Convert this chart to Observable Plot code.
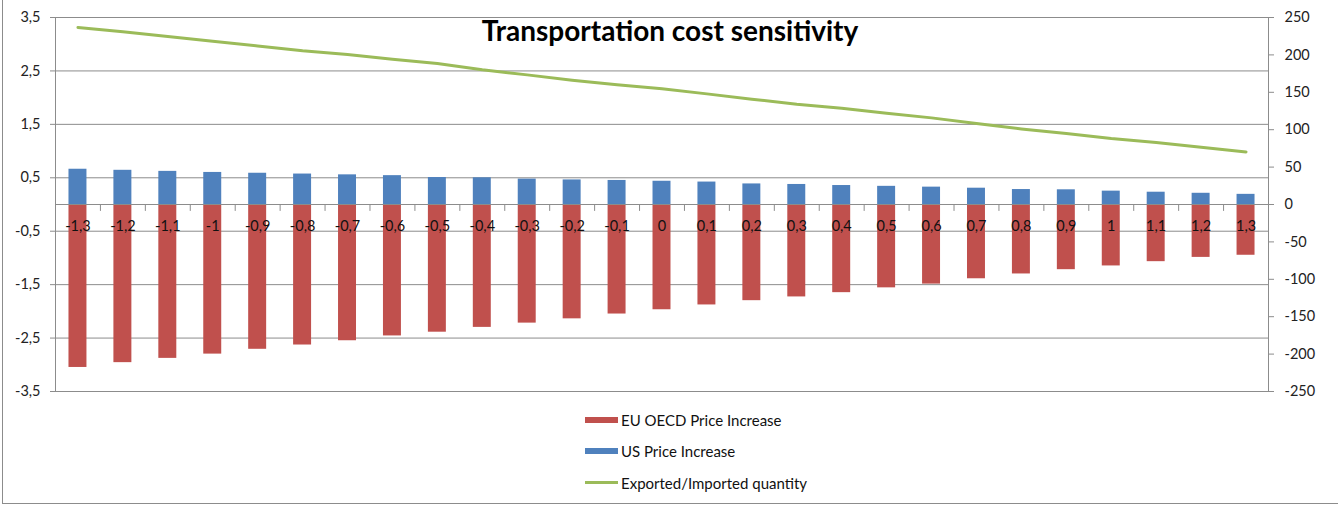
<!DOCTYPE html>
<html>
<head>
<meta charset="utf-8">
<script src="https://cdn.jsdelivr.net/npm/d3@7"></script>
<script src="https://cdn.jsdelivr.net/npm/@observablehq/plot@0.6"></script>
<style>
  html, body { margin: 0; padding: 0; background: #fff; }
  #wrap { position: relative; width: 1338px; height: 506px; overflow: hidden; font-family: Lato, "Open Sans", sans-serif; }
  #border { position: absolute; left: 2px; top: -2px; width: 1340px; height: 506px; border: 1px solid #8c8c8c; box-sizing: border-box; }
  #title { position: absolute; left: 1px; top: 13px; width: 1338px; text-align: center; font-family: Lato, sans-serif; font-weight: bold; font-size: 28px; line-height: 34px; color: #000; }
  #legend { position: absolute; left: 585px; top: 404px; font-size: 15px; color: #111; }
  .row { display: flex; align-items: center; height: 31.5px; }
  .sw { width: 33px; margin-right: 3px; }
</style>
</head>
<body>
<div id="wrap">
  <div id="border"></div>
  <div id="chart"></div>
  <div id="title">Transportation cost sensitivity</div>
  <div id="legend"></div>
</div>
<script>
// ---- data ----
const categories = [-1.3,-1.2,-1.1,-1.0,-0.9,-0.8,-0.7,-0.6,-0.5,-0.4,-0.3,-0.2,-0.1,0,0.1,0.2,0.3,0.4,0.5,0.6,0.7,0.8,0.9,1.0,1.1,1.2,1.3];
const euPriceIncrease = [-3.05,-2.96,-2.88,-2.80,-2.71,-2.63,-2.55,-2.46,-2.39,-2.30,-2.22,-2.14,-2.05,-1.97,-1.88,-1.80,-1.73,-1.65,-1.56,-1.49,-1.39,-1.30,-1.22,-1.15,-1.07,-0.99,-0.95];
const usPriceIncrease = [0.66,0.64,0.62,0.60,0.585,0.57,0.555,0.54,0.505,0.50,0.475,0.46,0.45,0.435,0.42,0.385,0.375,0.355,0.34,0.325,0.305,0.28,0.275,0.25,0.23,0.21,0.19];
const quantity = [236.7,230.8,224.5,218.3,212.0,205.4,200.5,194.3,188.5,180.0,173.3,166.2,160.0,154.6,147.9,140.8,133.9,128.8,121.9,115.8,108.3,101.0,95.0,88.2,82.9,76.6,70.3];
const leftTicks = [3.5,2.5,1.5,0.5,-0.5,-1.5,-2.5,-3.5];
const rightTicks = [250,200,150,100,50,0,-50,-100,-150,-200,-250];
const seriesNames = ["EU OECD Price Increase","US Price Increase","Exported/Imported quantity"];
const colors = ["#C0504D","#4F81BD","#9BBB59"];

// ---- helpers ----
const fmt = v => String(v).replace(".", ",");
const leftMax = 3.5, rightMax = 250;
const toLeft = r => r * leftMax / rightMax;
const labels = categories.map(fmt);
const rows = categories.map((c, i) => ({cat: fmt(c), eu: euPriceIncrease[i], us: usPriceIncrease[i], qty: quantity[i]}));

const W = 1338, mL = 55, mR = 70;
const step = (W - mL - mR) / categories.length;
const gridColor = "#8c8c8c";

const chart = Plot.plot({
  width: W,
  height: 400,
  marginTop: 17,
  marginBottom: 9,
  marginLeft: mL,
  marginRight: mR,
  style: {fontFamily: "Lato, 'Open Sans', sans-serif", fontSize: "14px", color: "#222", background: "transparent"},
  x: {domain: labels, type: "band", paddingInner: 0.6, paddingOuter: 0.3, round: false, axis: null},
  y: {domain: [-leftMax, leftMax], axis: null},
  marks: [
    Plot.ruleY(leftTicks, {stroke: gridColor, strokeWidth: 1}),
    Plot.frame({stroke: gridColor}),
    Plot.axisY({anchor: "left", ticks: leftTicks, tickFormat: fmt, tickSize: 5, tickPadding: 10, stroke: gridColor, fill: "#222", fontSize: 14.5}),
    Plot.axisY({anchor: "right", ticks: rightTicks.map(toLeft), tickFormat: (d, i) => fmt(rightTicks[i]), tickSize: 5, tickPadding: 11, stroke: gridColor, fill: "#222", fontSize: 14.5}),
    Plot.barY(rows, {x: "cat", y: "eu", fill: colors[0]}),
    Plot.barY(rows, {x: "cat", y: "us", fill: colors[1]}),
    Plot.ruleY([0], {stroke: gridColor}),
    Plot.vector(labels, {
      x: d => d, y: 0, length: 6, rotate: 180, anchor: "start", dx: -step / 2,
      stroke: gridColor, strokeWidth: 1,
      shape: {draw(context, l) { context.moveTo(0, 0); context.lineTo(0, -l); }}
    }),
    Plot.text(labels, {x: d => d, y: 0, dy: 22, fill: "#111", fontSize: 14.5}),
    Plot.line(rows, {x: "cat", y: d => toLeft(d.qty), stroke: colors[2], strokeWidth: 3})
  ]
});
document.getElementById("chart").appendChild(chart);

// ---- legend ----
const legend = document.getElementById("legend");
seriesNames.forEach((name, i) => {
  const row = document.createElement("div");
  row.className = "row";
  const sw = document.createElement("div");
  sw.className = "sw";
  sw.style.height = i < 2 ? "6px" : "3px";
  sw.style.background = colors[i];
  const t = document.createElement("span");
  t.textContent = name;
  row.appendChild(sw);
  row.appendChild(t);
  legend.appendChild(row);
});
</script>
</body>
</html>
